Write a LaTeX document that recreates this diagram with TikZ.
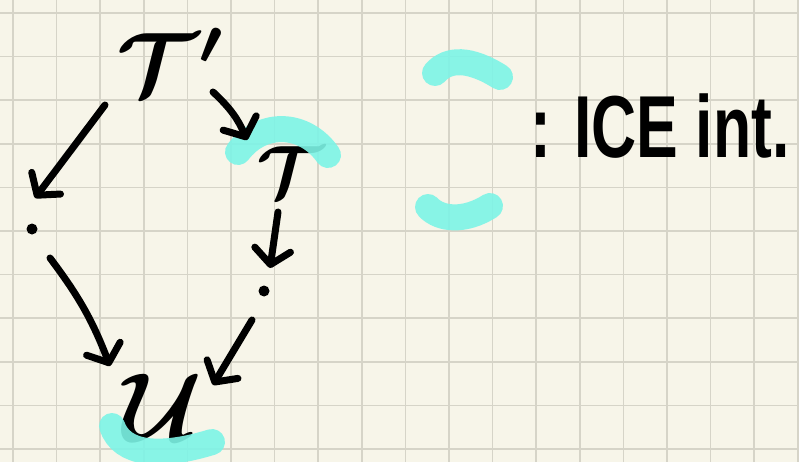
\documentclass[tikz,border=0pt]{standalone}
\usepackage{fontspec}
\setmainfont{Liberation Sans}
\usetikzlibrary{arrows.meta}
\definecolor{paper}{HTML}{F7F5E9}
\definecolor{gridline}{HTML}{D6D4C8}
\definecolor{marker}{HTML}{7DF4E6}
\tikzset{
  ink/.style={line width=7pt, line cap=round, line join=round, black},
  arr/.style={ink, -{Straight Barb[length=15pt,width=36pt,round]}},
  hilite/.style={line width=26pt, line cap=round, draw=marker, opacity=0.9},
  obj/.style={inner sep=0pt, text=black},
  dotnode/.style={circle, fill=black, minimum size=11pt, inner sep=0pt},
  legendtext/.style={inner sep=0pt, anchor=base west, text=black,
    font=\fontsize{88}{88}\selectfont\bfseries},
}
\begin{document}
\begin{tikzpicture}[x=1pt,y=-1pt]
% squared paper
\fill[paper] (0,0) rectangle (799,462);
\useasboundingbox (0,0) rectangle (799,462);
\foreach \k in {0,...,18} {
  \draw[gridline, line width=1.6pt] ({13+43.6*\k},0) -- ({13+43.6*\k},462);
}
\foreach \k in {0,...,10} {
  \draw[gridline, line width=1.6pt] (0,{13+43.6*\k}) -- (799,{13+43.6*\k});
}

% objects
\node[obj] (Tp) at (172,62) {\scalebox{9}{\boldmath$\mathcal{T}'$}};
\node[obj] (T)  at (290,172) {\scalebox{7.4}{\boldmath$\mathcal{T}$}};
\node[dotnode] (dL) at (32,229) {};
\node[dotnode] (dR) at (264,291) {};
\node[obj] (U)  at (163,408) {\scalebox{9.8}{\boldmath$\mathcal{U}$}};

% highlighter marks
\draw[hilite] (238,152) .. controls (262,120) and (305,122) .. (328,155);
\draw[hilite] (112,426) .. controls (122,455) and (160,458) .. (212,442);
\draw[hilite] (435,73) .. controls (448,58) and (470,58) .. (500,77);
\draw[hilite] (428,207) .. controls (440,220) and (465,222) .. (490,206);

% arrows
\draw[arr] ([shift={(-67,43)}]Tp.center) -- ([shift={(3,-31)}]dL.center);
\draw[arr] ([shift={(41,30)}]Tp.center) to[bend left=12] ([shift={(-43,-32)}]T.center);
\draw[arr] ([shift={(-12,40)}]T.center) -- ([shift={(6,-23)}]dR.center);
\draw[arr] ([shift={(18,29)}]dL.center) to[bend left=8] ([shift={(-53,-42)}]U.center);
\draw[arr] ([shift={(-12,29)}]dR.center) -- ([shift={(50,-23)}]U.center);

% legend
\node[legendtext] (leg) at (530,158) {\scalebox{0.71}[1]{: ICE int.}};
\end{tikzpicture}
\end{document}
